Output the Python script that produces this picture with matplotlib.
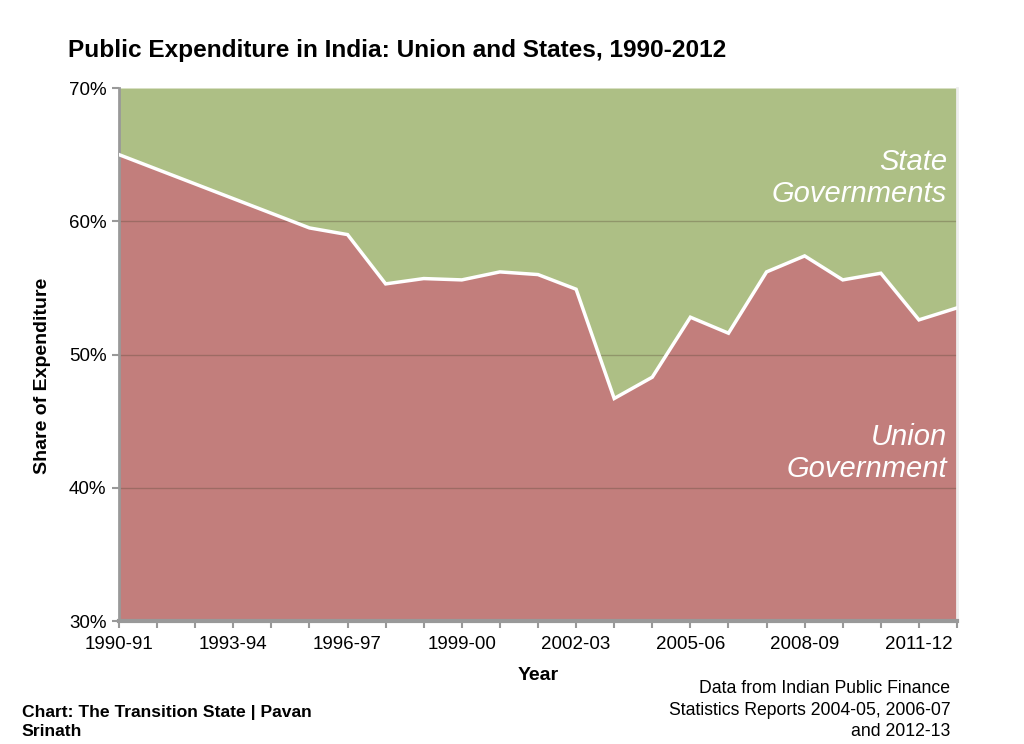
import matplotlib
matplotlib.use("Agg")
import matplotlib.pyplot as plt
from matplotlib.ticker import FixedLocator

years = ["1990-91", "1991-92", "1992-93", "1993-94", "1994-95", "1995-96", "1996-97",
         "1997-98", "1998-99", "1999-00", "2000-01", "2001-02", "2002-03", "2003-04",
         "2004-05", "2005-06", "2006-07", "2007-08", "2008-09", "2009-10", "2010-11",
         "2011-12", "2012-13"]
union_share = [65.0, 63.9, 62.8, 61.7, 60.6, 59.5, 59.0, 55.3, 55.7, 55.6, 56.2, 56.0,
               54.9, 46.7, 48.3, 52.8, 51.6, 56.2, 57.4, 55.6, 56.1, 52.6, 53.5]
ytick_vals = [30, 40, 50, 60, 70]
xtick_labels = ["1990-91", "1993-94", "1996-97", "1999-00", "2002-03", "2005-06", "2008-09", "2011-12"]

RED = "#C27E7C"
GREEN = "#ADBF85"
FONT = ["Liberation Sans", "DejaVu Sans"]

fig = plt.figure(figsize=(10.24, 7.44), dpi=100)
ax = fig.add_axes([0.1162, 0.1653, 0.8184, 0.7164])

x = list(range(len(years)))
ax.fill_between(x, 30, union_share, color=RED, lw=0, zorder=1)
ax.fill_between(x, union_share, 70, color=GREEN, lw=0, zorder=1)
for v in [40, 50, 60]:
    ax.axhline(v, color="#5a4a3a", alpha=0.35, lw=1, zorder=2)
ax.plot(x, union_share, color="white", lw=2.5, zorder=3, solid_joinstyle="miter")

ax.set_xlim(0, len(years) - 1)
ax.set_ylim(30, 70)

ax.set_yticks(ytick_vals)
ax.set_yticklabels([f"{v}%" for v in ytick_vals], family=FONT, fontsize=13.5)
xt = [years.index(l) for l in xtick_labels]
ax.set_xticks(xt)
ax.set_xticklabels(xtick_labels, family=FONT, fontsize=13.5)
ax.xaxis.set_minor_locator(FixedLocator(x))
ax.tick_params(axis="x", which="both", direction="out", length=5, color="#999999", width=1.5, pad=6)
ax.tick_params(axis="y", direction="out", length=5, color="#999999", width=1.5, pad=4)

for s in ["left", "bottom"]:
    ax.spines[s].set_color("#999999")
ax.spines["left"].set_linewidth(2)
ax.spines["bottom"].set_linewidth(3)
ax.spines["top"].set_visible(False)
ax.spines["right"].set_color("#eeeeee")
ax.spines["right"].set_linewidth(2)

ax.set_xlabel("Year", family=FONT, fontsize=14, fontweight="bold", labelpad=10)
ax.set_ylabel("Share of Expenditure", family=FONT, fontsize=14, fontweight="bold")
ax.yaxis.set_label_coords(-0.081, 0.46)

ax.text(0.988, 0.831, "State\nGovernments", transform=ax.transAxes, ha="right", va="center",
        color="white", fontsize=21, style="italic", family=FONT, linespacing=1.2)
ax.text(0.988, 0.315, "Union\nGovernment", transform=ax.transAxes, ha="right", va="center",
        color="white", fontsize=21, style="italic", family=FONT, linespacing=1.2)

fig.text(0.066, 0.932, "Public Expenditure in India: Union and States, 1990-2012",
         family=FONT, fontsize=17.6, fontweight="bold", ha="left", va="center")
fig.text(0.021, 0.007, "Chart: The Transition State | Pavan\nSrinath", family=FONT,
         fontsize=12.6, fontweight="bold", ha="left", va="bottom", linespacing=1.35)
fig.text(0.928, 0.005, "Data from Indian Public Finance\nStatistics Reports 2004-05, 2006-07\nand 2012-13",
         family=FONT, fontsize=12.7, ha="right", va="bottom", linespacing=1.35)

fig.savefig("out.png", dpi=100)
